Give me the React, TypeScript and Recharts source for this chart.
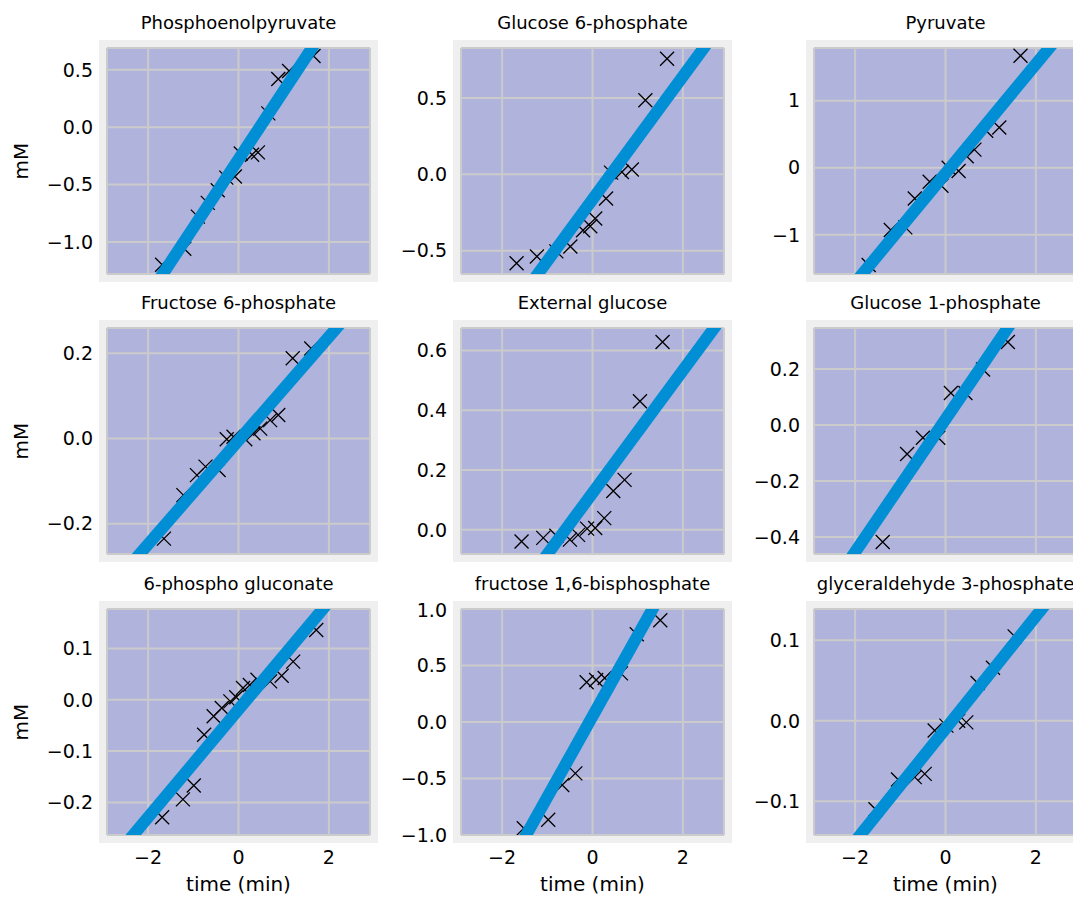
import React from 'react';
import { ComposedChart, Scatter, Line, XAxis, YAxis, CartesianGrid } from 'recharts';

// theoretical quantiles (x) and sorted samples (y)
const pepX = [-1.69, -1.2, -0.9, -0.68, -0.46, -0.27, -0.08, 0.05, 0.3, 0.43, 0.66, 0.88, 1.12, 1.66];
const pepY = [-1.2, -1.06, -0.78, -0.66, -0.55, -0.44, -0.43, -0.23, -0.24, -0.22, 0.12, 0.42, 0.49, 0.62];
const pepFit = [-2.07, 1.51];

const g6pX = [-1.68, -1.23, -0.8, -0.49, -0.21, -0.05, 0.06, 0.3, 0.41, 0.65, 0.87, 1.17, 1.65];
const g6pY = [-0.583, -0.538, -0.505, -0.473, -0.366, -0.34, -0.29, -0.159, 0.011, 0.015, 0.031, 0.485, 0.757];
const g6pFit = [-1.374, 1.044];

const pyrX = [-1.7, -1.21, -0.89, -0.68, -0.35, -0.09, 0.07, 0.29, 0.47, 0.64, 0.9, 1.19, 1.66];
const pyrY = [-1.45, -0.93, -0.89, -0.46, -0.21, -0.27, 0.0, -0.05, 0.17, 0.27, 0.55, 0.6, 1.67];
const pyrFit = [-2.53, 2.36];

const f6pX = [-1.65, -1.22, -0.92, -0.73, -0.44, -0.26, -0.11, 0.15, 0.33, 0.48, 0.7, 0.88, 1.2, 1.61];
const f6pY = [-0.235, -0.133, -0.086, -0.066, -0.074, -0.002, 0.004, -0.002, 0.012, 0.023, 0.043, 0.055, 0.188, 0.211];
const f6pFit = [-0.37, 0.36];

const glcX = [-1.57, -1.09, -0.8, -0.5, -0.32, -0.12, 0.06, 0.26, 0.46, 0.71, 1.05, 1.55];
const glcY = [-0.039, -0.027, -0.02, -0.033, -0.017, 0.004, 0.006, 0.039, 0.13, 0.167, 0.43, 0.628];
const glcFit = [-0.492, 0.738];

const g1pX = [-1.39, -0.85, -0.5, -0.16, 0.12, 0.44, 0.83, 1.38];
const g1pY = [-0.418, -0.104, -0.046, -0.046, 0.114, 0.114, 0.198, 0.296];
const g1pFit = [-0.691, 0.731];

const pgX = [-1.69, -1.23, -0.99, -0.76, -0.55, -0.37, -0.18, -0.05, 0.1, 0.25, 0.42, 0.7, 0.955, 1.21, 1.72];
const pgY = [-0.229, -0.194, -0.167, -0.068, -0.032, -0.016, -0.003, 0.005, 0.023, 0.029, 0.039, 0.036, 0.047, 0.0745, 0.136];
const pgFit = [-0.334, 0.296];

const fbpX = [-1.52, -0.98, -0.67, -0.38, -0.13, 0.08, 0.27, 0.63, 0.98, 1.5];
const fbpY = [-0.94, -0.865, -0.557, -0.455, 0.352, 0.372, 0.39, 0.43, 0.777, 0.9];
const fbpFit = [-2.095, 2.195];

const gapX = [-1.55, -1.05, -0.68, -0.46, -0.24, 0.02, 0.28, 0.46, 0.71, 1.05, 1.53];
const gapY = [-0.11, -0.073, -0.07, -0.066, -0.012, -0.006, 0.0, -0.002, 0.047, 0.066, 0.105];
const gapFit = [-0.22, 0.2];

const fitX = [-3, 3];
const xTicks = [-2, 0, 2];
const xDomain = [-2.91, 2.91];

const titles = [
  'Phosphoenolpyruvate', 'Glucose 6-phosphate', 'Pyruvate',
  'Fructose 6-phosphate', 'External glucose', 'Glucose 1-phosphate',
  '6-phospho gluconate', 'fructose 1,6-bisphosphate', 'glyceraldehyde 3-phosphate',
];

const yDomains = [
  [-1.28, 0.69], [-0.653, 0.827], [-1.585, 1.785],
  [-0.271, 0.259], [-0.081, 0.675], [-0.461, 0.346],
  [-0.2635, 0.177], [-1.0, 1.0], [-0.142, 0.139],
];
const yTicks = [
  [-1, -0.5, 0, 0.5], [-0.5, 0, 0.5], [-1, 0, 1],
  [-0.2, 0, 0.2], [0, 0.2, 0.4, 0.6], [-0.4, -0.2, 0, 0.2],
  [-0.2, -0.1, 0, 0.1], [-1, -0.5, 0, 0.5, 1], [-0.1, 0, 0.1],
];
const yDecimals = [1, 1, 0, 1, 1, 1, 1, 1, 1];

const seriesX = [pepX, g6pX, pyrX, f6pX, glcX, g1pX, pgX, fbpX, gapX];
const seriesY = [pepY, g6pY, pyrY, f6pY, glcY, g1pY, pgY, fbpY, gapY];
const fits = [pepFit, g6pFit, pyrFit, f6pFit, glcFit, g1pFit, pgFit, fbpFit, gapFit];

// layout
const COL_LEFT = [107, 461, 814];
const ROW_TOP = [48, 328, 609];
const PW = 263;
const PH = 226;
const Y_AXIS_W = 90;
const FONT = 'DejaVu Sans';

const minus = (s: string) => s.replace('-', '\u2212');

const XMark = (props: any) => {
  const { cx, cy } = props;
  if (cx == null || cy == null) return null;
  const s = 7;
  return (
    <path
      d={`M${cx - s},${cy - s}L${cx + s},${cy + s}M${cx - s},${cy + s}L${cx + s},${cy - s}`}
      stroke="#000"
      strokeWidth={1.3}
      fill="none"
    />
  );
};

const Panel = ({ idx }: { idx: number }) => {
  const row = Math.floor(idx / 3);
  const col = idx % 3;
  const points = seriesX[idx].map((x, i) => ({ x, y: seriesY[idx][i] }));
  const fitData = fitX.map((x, i) => ({ x, y: fits[idx][i] }));
  const bottom = row === 2;
  return (
    <div style={{ position: 'absolute', left: COL_LEFT[col] - Y_AXIS_W, top: ROW_TOP[row] - 10 }}>
      <ComposedChart width={Y_AXIS_W + PW + 10} height={10 + PH + 40} margin={{ top: 10, right: 10, bottom: 0, left: 0 }}>
        <CartesianGrid stroke="#cbcbcb" strokeWidth={2} />
        <XAxis
          type="number"
          dataKey="x"
          domain={xDomain}
          ticks={xTicks}
          allowDataOverflow
          axisLine={false}
          tickLine={false}
          tickSize={8}
          tickMargin={8}
          height={40}
          tick={{ fontSize: 19, fill: '#000', fontFamily: FONT }}
          tickFormatter={(v: number) => (bottom ? minus(String(v)) : '')}
        />
        <YAxis
          type="number"
          dataKey="y"
          domain={yDomains[idx]}
          ticks={yTicks[idx]}
          allowDataOverflow
          axisLine={false}
          tickLine={false}
          tickSize={8}
          tickMargin={6}
          width={Y_AXIS_W}
          tick={{ fontSize: 19, fill: '#000', fontFamily: FONT }}
          tickFormatter={(v: number) => minus(v.toFixed(yDecimals[idx]))}
        />
        <Scatter data={points} shape={XMark} isAnimationActive={false} zIndex={600} />
        <Line
          data={fitData}
          dataKey="y"
          stroke="#008fd5"
          strokeWidth={12}
          dot={false}
          activeDot={false}
          isAnimationActive={false}
          zIndex={700}
        />
      </ComposedChart>
    </div>
  );
};

export default function App() {
  return (
    <div style={{ position: 'absolute', left: 0, top: 0, width: 1073, height: 901, overflow: 'hidden', background: '#fff' }}>
      <svg width={1073} height={901} style={{ position: 'absolute', left: 0, top: 0 }}>
        {titles.map((t, i) => {
          const row = Math.floor(i / 3);
          const col = i % 3;
          const l = COL_LEFT[col];
          const tp = ROW_TOP[row];
          return (
            <g key={t}>
              <rect x={l - 8} y={tp - 8} width={PW + 16} height={PH + 16} fill="#efefef" />
              <rect x={l} y={tp} width={PW} height={PH} fill="#b0b3dc" />
              <text x={l + PW / 2} y={tp - 19} textAnchor="middle" fontSize={18} fontFamily={FONT} fill="#000">
                {t}
              </text>
            </g>
          );
        })}
        {ROW_TOP.map((tp) => (
          <text
            key={`yl-${tp}`}
            x={28}
            y={tp + PH / 2}
            transform={`rotate(-90, 28, ${tp + PH / 2})`}
            textAnchor="middle"
            fontSize={20}
            fontFamily={FONT}
            fill="#000"
          >
            mM
          </text>
        ))}
        {COL_LEFT.map((l) => (
          <text key={`xl-${l}`} x={l + PW / 2} y={891} textAnchor="middle" fontSize={20} fontFamily={FONT} fill="#000">
            time (min)
          </text>
        ))}
      </svg>
      {titles.map((t, i) => (
        <Panel key={t} idx={i} />
      ))}
    </div>
  );
}
